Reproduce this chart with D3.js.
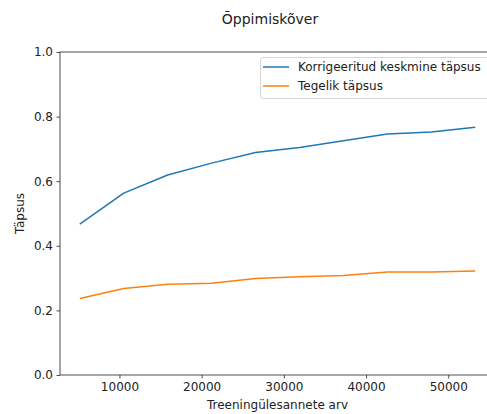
<!DOCTYPE html>
<html>
<head>
<meta charset="utf-8">
<script src="https://cdn.jsdelivr.net/npm/d3@7"></script>
<style>
  body { margin: 0; background: #fff; }
  text { font-family: "DejaVu Sans", sans-serif; fill: #222; }
</style>
</head>
<body>
<div class="chart"></div>
<script>
var trainSizes = [5173, 10519, 15865, 21211, 26557, 31903, 37249, 42595, 47941, 53283];
var adjustedAcc = [0.467, 0.563, 0.619, 0.656, 0.689, 0.704, 0.725, 0.746, 0.752, 0.767];
var actualAcc = [0.237, 0.268, 0.281, 0.284, 0.299, 0.304, 0.308, 0.319, 0.319, 0.322];
var seriesNames = ["Korrigeeritud keskmine täpsus", "Tegelik täpsus"];
var colors = ["#1f77b4", "#ff7f0e"];
var yTicks = [0, 0.2, 0.4, 0.6, 0.8, 1.0];
var xTicks = [10000, 20000, 30000, 40000, 50000];

var width = 487, height = 414;
// plot box (note: "top" is reserved on window, so use other names)
var pLeft = 60, pRight = 495, pTop = 52, pBottom = 375;
var fs = "12px";

var svg = d3.select(".chart").append("svg")
    .attr("width", width)
    .attr("height", height);

var x = d3.scaleLinear().domain([2766, 55690]).range([pLeft, pRight]);
var y = d3.scaleLinear().domain([0, 1]).range([pBottom, pTop]);

// title
svg.append("text")
    .attr("x", 270).attr("y", 24)
    .attr("text-anchor", "middle")
    .style("font-size", "14px")
    .text("Õppimiskõver");

// lines
var line = d3.line()
    .x(function(d) { return x(d[0]); })
    .y(function(d) { return y(d[1]); });

[adjustedAcc, actualAcc].forEach(function(vals, i) {
  svg.append("path")
      .datum(trainSizes.map(function(s, j) { return [s, vals[j]]; }))
      .attr("fill", "none")
      .attr("stroke", colors[i])
      .attr("stroke-width", 1.5)
      .attr("stroke-linejoin", "round")
      .attr("d", line);
});

// axes
var xAxis = svg.append("g")
    .attr("transform", "translate(0," + pBottom + ")")
    .call(d3.axisBottom(x).tickValues(xTicks).tickSize(3.5).tickPadding(3.5).tickFormat(d3.format("d")));
var yAxis = svg.append("g")
    .attr("transform", "translate(" + pLeft + ",0)")
    .call(d3.axisLeft(y).tickValues(yTicks).tickSize(3.5).tickPadding(3.5).tickFormat(d3.format(".1f")));

[xAxis, yAxis].forEach(function(a) {
  a.select(".domain").remove();
  a.selectAll("text").style("font-size", fs).attr("font-family", null).attr("fill", "#222");
  a.selectAll("line").attr("stroke", "#222").attr("stroke-width", 0.8);
});

// frame
svg.append("rect")
    .attr("x", pLeft).attr("y", pTop)
    .attr("width", pRight - pLeft).attr("height", pBottom - pTop)
    .attr("fill", "none")
    .attr("stroke", "#222")
    .attr("stroke-width", 0.8);

// axis labels
svg.append("text")
    .attr("x", (pLeft + pRight) / 2).attr("y", 409)
    .attr("text-anchor", "middle")
    .style("font-size", fs)
    .text("Treeningülesannete arv");
svg.append("text")
    .attr("transform", "translate(24," + (pTop + pBottom) / 2 + ") rotate(-90)")
    .attr("text-anchor", "middle")
    .style("font-size", fs)
    .text("Täpsus");

// legend
var legend = svg.append("g");
legend.append("rect")
    .attr("x", 260.5).attr("y", 57.5)
    .attr("width", 232).attr("height", 41)
    .attr("rx", 2.5)
    .attr("fill", "#fff").attr("fill-opacity", 0.8)
    .attr("stroke", "#ccc").attr("stroke-width", 0.8);
seriesNames.forEach(function(name, i) {
  var ly = 67 + i * 19;
  legend.append("line")
      .attr("x1", 263).attr("x2", 289)
      .attr("y1", ly).attr("y2", ly)
      .attr("stroke", colors[i]).attr("stroke-width", 1.5);
  legend.append("text")
      .attr("x", 298).attr("y", ly + 4)
      .style("font-size", fs)
      .text(name);
});
</script>
</body>
</html>
